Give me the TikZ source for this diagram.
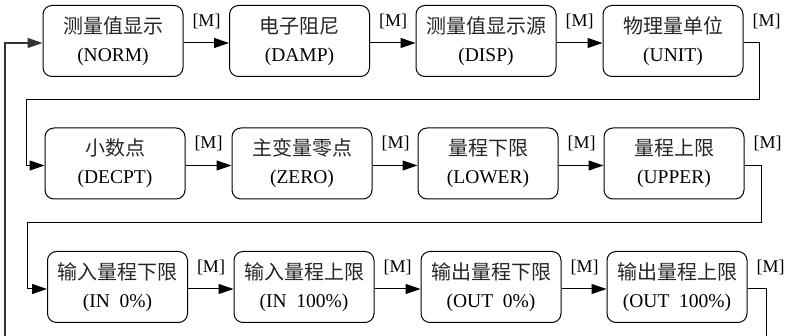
\documentclass[tikz,border=0pt]{standalone}
\usepackage{fontspec}
\setmainfont{Liberation Serif}
\newfontfamily\cjk{Noto Sans CJK SC}
\usetikzlibrary{arrows.meta}
\tikzset{
  stepbox/.style={draw=black, line width=1pt, rounded corners=9pt,
    minimum width=140pt, minimum height=71pt, inner sep=0pt, align=center,
    font=\fontsize{19.5}{28}\selectfont},
  lab/.style={inner sep=0pt, font=\fontsize{18}{18}\selectfont},
  conn/.style={line width=1pt, draw=black},
  arr/.style={conn, -{Triangle[length=15pt,width=10pt]}},
}
\newcommand{\cn}[1]{{\cjk\fontsize{20}{28}\selectfont\color{black!85}#1}}
\begin{document}
\begin{tikzpicture}[x=1pt,y=-1pt]
\useasboundingbox (0,0) rectangle (790,336);
\clip (0,0) rectangle (790,336);
% row 1
\node[stepbox] (n1) at (113,41) {\cn{测量值显示}\\(NORM)};
\node[stepbox] (n2) at (299.5,41) {\cn{电子阻尼}\\(DAMP)};
\node[stepbox] (n3) at (486,41) {\cn{测量值显示源}\\(DISP)};
\node[stepbox] (n4) at (673,41) {\cn{物理量单位}\\(UNIT)};
% row 2
\node[stepbox] (n5) at (115,163.5) {\cn{小数点}\\(DECPT)};
\node[stepbox] (n6) at (302,163.5) {\cn{主变量零点}\\(ZERO)};
\node[stepbox] (n7) at (488,163.5) {\cn{量程下限}\\(LOWER)};
\node[stepbox] (n8) at (674,163.5) {\cn{量程上限}\\(UPPER)};
% row 3
\node[stepbox] (n9) at (117.5,287) {\cn{输入量程下限}\\(IN\ \ 0\%)};
\node[stepbox] (n10) at (304,287) {\cn{输入量程上限}\\(IN\ \ 100\%)};
\node[stepbox] (n11) at (491,287) {\cn{输出量程下限}\\(OUT\ \ 0\%)};
\node[stepbox] (n12) at (677,287) {\cn{输出量程上限}\\(OUT\ \ 100\%)};
% labels
\foreach \n in {1,...,12}{
  \node[lab] (m\n) at ([xshift=23pt,yshift=-16pt]n\n.north east) {[M]};
}
% connectors within rows
\foreach \a/\b in {1/2,2/3,3/4,5/6,6/7,7/8,9/10,10/11,11/12}{
  \draw[arr] ([yshift=-2pt]n\a.east) -- ([yshift=-2pt]n\b.west);
}
% turn-around coordinates
\coordinate (t1a) at (759,100);
\coordinate (t1b) at (26,100);
\coordinate (t2a) at (761,223);
\coordinate (t2b) at (27,223);
\coordinate (b2) at (766,340);
\coordinate (b1) at (5,340);
\draw[arr] ([yshift=-2pt]n4.east) -| (t1a) -- (t1b) |- ([yshift=-2pt]n5.west);
\draw[arr] ([yshift=-2pt]n8.east) -| (t2a) -- (t2b) |- ([yshift=-2pt]n9.west);
\draw[conn] ([yshift=-2pt]n12.east) -| (b2);
\draw[arr, line width=1.3pt, draw=black!80] (b1) |- ([yshift=-2pt]n1.west);
\end{tikzpicture}
\end{document}
